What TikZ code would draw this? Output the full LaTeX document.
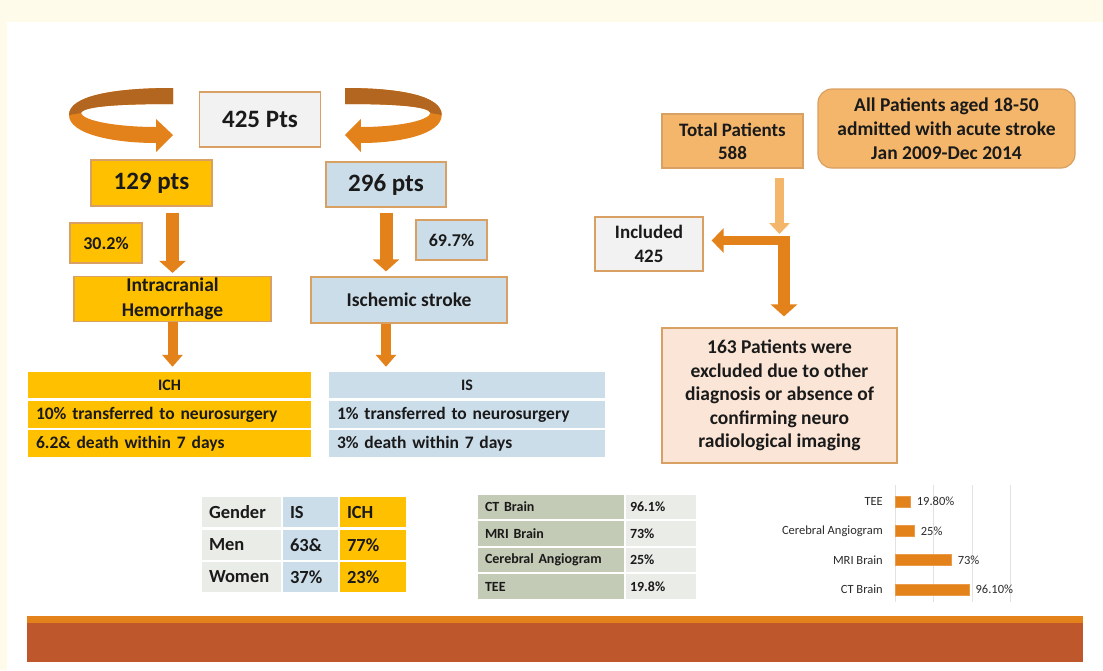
\documentclass[tikz,border=0pt]{standalone}
\usepackage{fontspec}
\setmainfont{Carlito}
\usepackage{tikz}
\usetikzlibrary{arrows.meta,calc,positioning}
\definecolor{Cream}{HTML}{FFFBEA}
\definecolor{Amber}{HTML}{E3821A}
\definecolor{Umber}{HTML}{B3661F}
\definecolor{Rim}{HTML}{D9A063}
\definecolor{Gold}{HTML}{FFC000}
\definecolor{Ice}{HTML}{CCDDEA}
\definecolor{Mist}{HTML}{F2F2F2}
\definecolor{Sand}{HTML}{F4B66B}
\definecolor{Peach}{HTML}{FBE5D6}
\definecolor{Stone}{HTML}{E9ECE7}
\definecolor{Sage}{HTML}{C3CAB5}
\definecolor{Rust}{HTML}{BE582C}
\definecolor{Ink}{HTML}{1A1A1A}
\definecolor{Grid}{HTML}{E2E2E2}
\definecolor{Slate}{HTML}{2B2B2B}
\newcommand{\fsz}[2]{\fontsize{#1}{#2}\selectfont}

\begin{document}
\begin{tikzpicture}[x=1pt,y=-1pt,
  flowbox/.style={draw=Rim,line width=1.2pt,inner sep=0pt,align=center,text=Ink},
  row/.style={inner sep=0pt,text=Ink,align=left,font=\bfseries\fsz{17.5}{20},minimum width=283pt,text width=267pt,minimum height=27pt},
  cell/.style={draw=white,line width=2pt,inner sep=0pt,text=Ink,align=left},
  blockarrow/.style={draw=Amber,line width=13pt,-{Triangle[length=12pt,width=26pt]}},
  thinarrow/.style={draw=Amber,line width=10pt,-{Triangle[length=12pt,width=20pt]}},
  bar/.style={anchor=west,fill=Amber,draw=Amber!80!white,line width=0.4pt,inner sep=0pt,minimum height=11pt},
  barlabel/.style={inner sep=0pt,text=Slate,font=\fsz{12.5}{14}}
]
\useasboundingbox (0,0) rectangle (1103,670);
\fill[Cream] (0,0) rectangle (1103,670);
\fill[white] (7,22) rectangle (1103,670);
\fill[Rust] (27,616) rectangle (1083,662);
\fill[Amber] (27,616) rectangle (1083,623);

% curled arrows round the total
\foreach \sx/\sc in {173/1,345/-0.93}{
  \begin{scope}[shift={(\sx,88)},xscale=\sc]
    \fill[Amber] (0,0) .. controls (-60,0) and (-104,8) .. (-104,27)
      .. controls (-104,46) and (-60,55) .. (-17,55) -- (-17,64) -- (0,47)
      -- (-17,31) -- (-17,39) .. controls (-55,39) and (-90,33) .. (-92,25)
      .. controls (-90,18) and (-50,16) .. (0,16) -- cycle;
    \fill[Umber] (0,0) .. controls (-60,0) and (-104,8) .. (-104,27)
      -- (-92,25) .. controls (-90,18) and (-50,16) .. (0,16) -- cycle;
  \end{scope}
}

% left flow
\node[flowbox,fill=Mist,minimum width=121pt,minimum height=55pt,font=\bfseries\fsz{25}{28}] (p425) at (260,119.5) {425 Pts};
\node[flowbox,fill=Gold,minimum width=121pt,minimum height=46pt,font=\bfseries\fsz{25}{28}] (p129) at (151.5,183) {129 pts};
\node[flowbox,fill=Ice,minimum width=120pt,minimum height=45pt,font=\bfseries\fsz{25}{28}] (p296) at (386,184.5) {296 pts};
\node[flowbox,fill=Gold,minimum width=72pt,minimum height=40pt,font=\bfseries\fsz{18}{20}] (pct30) at (106,243) {30.2\%};
\node[flowbox,fill=Ice,minimum width=71pt,minimum height=40pt,font=\bfseries\fsz{18}{20}] (pct70) at (451.5,240) {69.7\%};
\node[flowbox,fill=Gold,minimum width=197pt,minimum height=45pt,font=\bfseries\fsz{19.5}{25}] (ich) at (172.5,299) {Intracranial\\Hemorrhage};
\node[flowbox,fill=Ice,minimum width=196pt,minimum height=46pt,font=\bfseries\fsz{19.5}{24}] (isc) at (409,300) {Ischemic stroke};

\draw[blockarrow,shorten <=6pt,shorten >=3pt] (p129.south -| ich.north) -- (ich.north);
\draw[blockarrow,shorten <=5pt,shorten >=5pt] (p296.south) -- (p296.south |- isc.north);

\node[row,fill=Gold,align=center,minimum height=26pt,font=\bfseries\fsz{16}{18}] (ichhead) at (169.5,385) {ICH};
\node[row,fill=Gold] (ichrow1) at (169.5,414.5) {10\% transferred to neurosurgery};
\node[row,fill=Gold] (ichrow2) at (169.5,443.5) {6.2\& death within 7 days};
\node[row,fill=Ice,align=center,minimum width=276pt,minimum height=26pt,font=\bfseries\fsz{16}{18}] (ishead) at (467,385) {IS};
\node[row,fill=Ice,minimum width=276pt,text width=260pt] (isrow1) at (467,414.5) {1\% transferred to neurosurgery};
\node[row,fill=Ice,minimum width=276pt,text width=260pt] (isrow2) at (467,443.5) {3\% death within 7 days};

\draw[thinarrow,shorten >=5pt] (ich.south) -- (ich.south |- ichhead.north);
\draw[thinarrow,shorten >=5pt] (isc.south -| p296.south) -- (ishead.north -| p296.south);

% right flow
\node[flowbox,fill=Sand,minimum width=141pt,minimum height=54pt,font=\bfseries\fsz{19}{23}] (total) at (732.5,141) {Total Patients\\588};
\node[flowbox,fill=Sand,rounded corners=14pt,minimum width=257pt,minimum height=79pt,font=\bfseries\fsz{19.5}{24}] (allpts) at (946.5,128.5) {All Patients aged 18-50\\admitted with acute stroke\\Jan 2009-Dec 2014};
\node[flowbox,fill=Mist,minimum width=108pt,minimum height=54pt,font=\bfseries\fsz{19}{24}] (incl) at (649,244) {Included\\425};
\node[flowbox,fill=Peach,minimum width=235pt,minimum height=135pt,font=\bfseries\fsz{19.5}{23.5}] (excl) at (779.5,395.5) {163 Patients were\\excluded due to other\\diagnosis or absence of\\confirming neuro\\radiological imaging};

\coordinate (split) at (784,240.5);
\coordinate (feed) at (779.5,234);
\draw[draw=Amber,line width=12pt,-{Triangle[length=12pt,width=26pt]},shorten >=11pt] (split) -- (split |- excl.north);
\draw[draw=Amber,line width=9pt,-{Triangle[length=12pt,width=24pt]},shorten >=8pt] ([xshift=6pt]split) -- (split -| incl.east);
\draw[draw=Sand,line width=9pt,-{Triangle[length=11pt,width=20pt]},shorten <=9pt] (feed |- total.south) -- (feed);

% gender table
\foreach \lab/\is/\ic/\y [count=\r] in {Gender/IS/ICH/512, Men/63\&/77\%/545, Women/37\%/23\%/577}{
  \node[cell,fill=Stone,minimum width=81pt,minimum height=32pt,text width=65pt,font=\bfseries\fsz{18.5}{20}] (g\r a) at (241.5,\y) {\lab};
  \node[cell,fill=Ice,minimum width=57pt,minimum height=32pt,text width=41pt,font=\bfseries\fsz{18.5}{20}] (g\r b) at (310.5,\y) {\is};
  \node[cell,fill=Gold,minimum width=68pt,minimum height=32pt,text width=52pt,font=\bfseries\fsz{18.5}{20}] (g\r c) at (373,\y) {\ic};
}

% imaging table
\foreach \lab/\val/\y [count=\i] in {CT Brain/96.1\%/507, MRI Brain/73\%/533.5, Cerebral Angiogram/25\%/560, TEE/19.8\%/586.5}{
  \node[cell,fill=Sage,minimum width=148pt,minimum height=26.5pt,text width=132pt,font=\bfseries\fsz{14}{16}] (img\i) at (551,\y) {\lab};
  \node[cell,fill=Stone,minimum width=72pt,minimum height=26.5pt,text width=62pt,font=\bfseries\fsz{14}{16}] (rate\i) at (661,\y) {\val};
}

% imaging bar chart
\foreach \g in {0,50,100,150}
  \draw[Grid,line width=0.8pt] ({895+0.77*\g},485) -- ({895+0.77*\g},602);
\foreach \lab/\v/\shown/\y [count=\i] in {TEE/19.8/19.80\%/501.5, Cerebral Angiogram/25/25\%/531, MRI Brain/73/73\%/560, CT Brain/96.1/96.10\%/589.5}{
  \node[bar,minimum width={0.77*\v}] (bar\i) at (895,\y) {};
  \node[barlabel,right=6pt of bar\i] (val\i) {\shown};
  \node[barlabel,left=12pt of bar\i] (cat\i) {\lab};
}
\end{tikzpicture}
\end{document}
